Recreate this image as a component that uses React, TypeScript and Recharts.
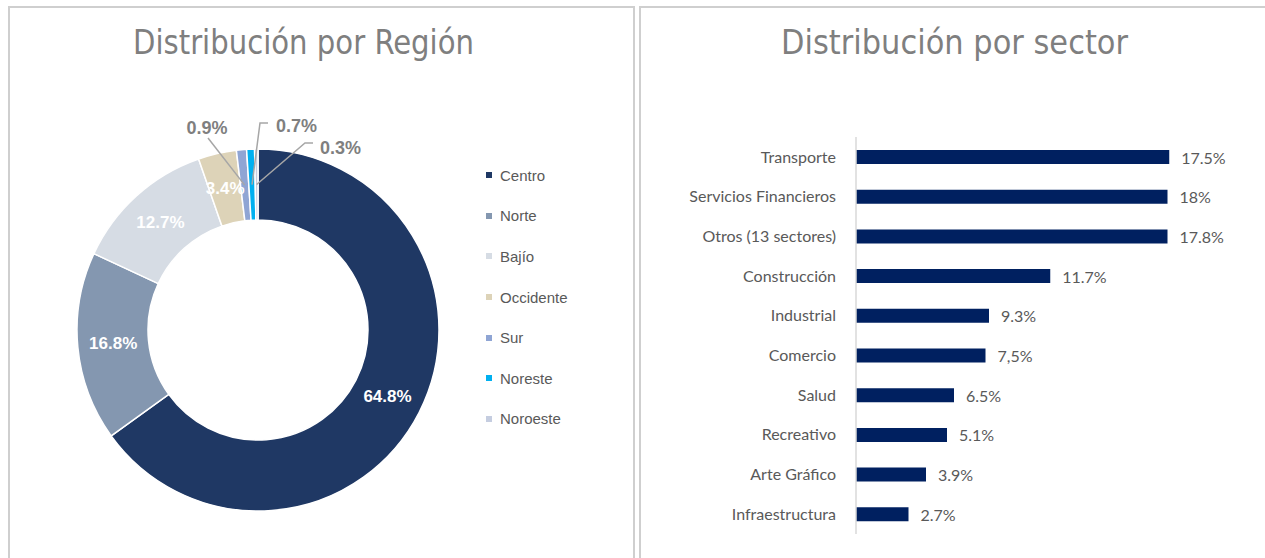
import React from 'react';
import { PieChart, Pie, Cell, Legend, BarChart, Bar, XAxis, YAxis, LabelList } from 'recharts';

// Región (donut)
const regionNames = ['Centro', 'Norte', 'Bajío', 'Occidente', 'Sur', 'Noreste', 'Noroeste'];
const regionShares = [64.8, 16.8, 12.7, 3.4, 0.9, 0.7, 0.3];
const regionLabels = ['64.8%', '16.8%', '12.7%', '3.4%', '0.9%', '0.7%', '0.3%'];

// Sector (bars) - bar lengths as drawn, labels as printed
const sectorNames = [
  'Transporte',
  'Servicios Financieros',
  'Otros (13 sectores)',
  'Construcción',
  'Industrial',
  'Comercio',
  'Salud',
  'Recreativo',
  'Arte Gráfico',
  'Infraestructura',
];
const sectorBars = [17.9, 17.8, 17.8, 11.1, 7.6, 7.4, 5.6, 5.2, 4.0, 3.0];
const sectorLabels = ['17.5%', '18%', '17.8%', '11.7%', '9.3%', '7,5%', '6.5%', '5.1%', '3.9%', '2.7%'];

const regionColors = ['#1f3864', '#8497b0', '#d6dce4', '#ddd3b8', '#8fa5d4', '#00b0f0', '#c5cde0'];
const BAR_COLOR = '#002060';
const TEXT_GRAY = '#595959';
const BORDER = '#cfcfcf';

const regionData = regionNames.map((name, i) => ({ name, value: regionShares[i], label: regionLabels[i] }));
const sectorData = sectorNames.map((name, i) => ({ name, value: sectorBars[i], label: sectorLabels[i] }));

// leader line / label placement for the small slices (relative to the donut centre)
const outsideLabels: Record<number, { tx: number; ty: number; anchor: string; path: [number, number][] }> = {
  4: { tx: -51, ty: -196, anchor: 'middle', path: [[-50, -192]] },
  5: { tx: 18, ty: -198, anchor: 'start', path: [[10, -207], [2, -207]] },
  6: { tx: 62, ty: -176, anchor: 'start', path: [[55, -187], [47, -187]] },
};

const RAD = Math.PI / 180;

const renderRegionLabel = (props: any) => {
  const { cx, cy, midAngle, innerRadius, outerRadius, index } = props;
  const r = (innerRadius + outerRadius) / 2;
  const px = cx + r * Math.cos(-midAngle * RAD);
  const py = cy + r * Math.sin(-midAngle * RAD);
  const out = outsideLabels[index];
  if (out) {
    const pts = out.path.map(([x, y]) => `${cx + x},${cy + y}`).concat(`${px},${py}`).join(' ');
    return (
      <g key={`lbl-${index}`}>
        <polyline points={pts} fill="none" stroke="#a6a6a6" strokeWidth={1.5} />
        <text
          x={cx + out.tx}
          y={cy + out.ty}
          textAnchor={out.anchor as any}
          fill="#7f7f7f"
          fontFamily="'Liberation Sans', Arial, sans-serif"
          fontWeight="bold"
          fontSize={18}
        >
          {regionLabels[index]}
        </text>
      </g>
    );
  }
  return (
    <text
      key={`lbl-${index}`}
      x={px}
      y={py}
      textAnchor="middle"
      dominantBaseline="central"
      fill="#ffffff"
      fontFamily="'Liberation Sans', Arial, sans-serif"
      fontWeight="bold"
      fontSize={17}
    >
      {regionLabels[index]}
    </text>
  );
};

const RegionLegend = () => (
  <div style={{ fontFamily: "'Liberation Sans', Arial, sans-serif", fontSize: 15, color: TEXT_GRAY }}>
    {regionNames.map((n, i) => (
      <div key={n} style={{ height: 40.6, display: 'flex', alignItems: 'center' }}>
        <span style={{ width: 6, height: 6, background: regionColors[i], display: 'inline-block', marginRight: 8 }} />
        <span>{n}</span>
      </div>
    ))}
  </div>
);

const renderBarLabel = (props: any) => {
  const { x, y, width, height, index } = props;
  return (
    <text
      x={x + width + 12}
      y={y + height / 2}
      dominantBaseline="central"
      fill={TEXT_GRAY}
      fontFamily="Lato, 'Noto Sans', sans-serif"
      fontSize={16}
    >
      {sectorLabels[index]}
    </text>
  );
};

const Title = ({ x, width, text }: { x: number; width: number; text: string }) => (
  <text
    x={x}
    y={54}
    textLength={width}
    lengthAdjust="spacingAndGlyphs"
    fill="#7f7f7f"
    fontFamily="'DejaVu Sans Condensed', 'Liberation Sans Narrow', sans-serif"
    fontSize={33}
  >
    {text}
  </text>
);

export default function App() {
  return (
    <div style={{ position: 'absolute', left: 0, top: 0, width: 1265, height: 558, overflow: 'hidden', background: '#fff' }}>
      <div style={{ position: 'absolute', left: 8, top: 6, width: 623, height: 600, border: `2px solid ${BORDER}` }} />
      <div style={{ position: 'absolute', left: 639, top: 6, width: 700, height: 600, border: `2px solid ${BORDER}` }} />

      <svg style={{ position: 'absolute', left: 0, top: 0 }} width={1265} height={80}>
        <Title x={133} width={341} text="Distribución por Región" />
        <Title x={781} width={347} text="Distribución por sector" />
      </svg>

      <div style={{ position: 'absolute', left: 0, top: 0 }}>
        <PieChart width={633} height={558} margin={{ top: 0, right: 0, bottom: 0, left: 0 }}>
          <Pie
            data={regionData}
            dataKey="value"
            nameKey="name"
            cx={258}
            cy={330}
            innerRadius={110}
            outerRadius={181}
            startAngle={90}
            endAngle={-270}
            stroke="#ffffff"
            strokeWidth={1.5}
            label={renderRegionLabel}
            labelLine={false}
            isAnimationActive={false}
          >
            {regionData.map((d, i) => (
              <Cell key={d.name} fill={regionColors[i]} />
            ))}
          </Pie>
          <Legend
            layout="vertical"
            verticalAlign="top"
            align="right"
            content={() => <RegionLegend />}
            wrapperStyle={{ position: 'absolute', left: 486, top: 155, width: 140 }}
          />
        </PieChart>
      </div>

      <div style={{ position: 'absolute', left: 640, top: 0 }}>
        <BarChart
          width={625}
          height={558}
          data={sectorData}
          layout="vertical"
          margin={{ top: 137, right: 59, bottom: 24, left: 0 }}
          barCategoryGap={0}
        >
          <XAxis type="number" domain={[0, 20]} hide />
          <YAxis
            type="category"
            dataKey="name"
            width={216}
            tickLine={false}
            tickSize={0}
            tickMargin={20}
            axisLine={{ stroke: '#d9d9d9', strokeWidth: 1.5 }}
            tick={{ fill: TEXT_GRAY, fontSize: 16, fontFamily: "Lato, 'Noto Sans', sans-serif" }}
            interval={0}
          />
          <Bar dataKey="value" fill={BAR_COLOR} barSize={14} isAnimationActive={false}>
            <LabelList dataKey="label" content={renderBarLabel} />
          </Bar>
        </BarChart>
      </div>
    </div>
  );
}
